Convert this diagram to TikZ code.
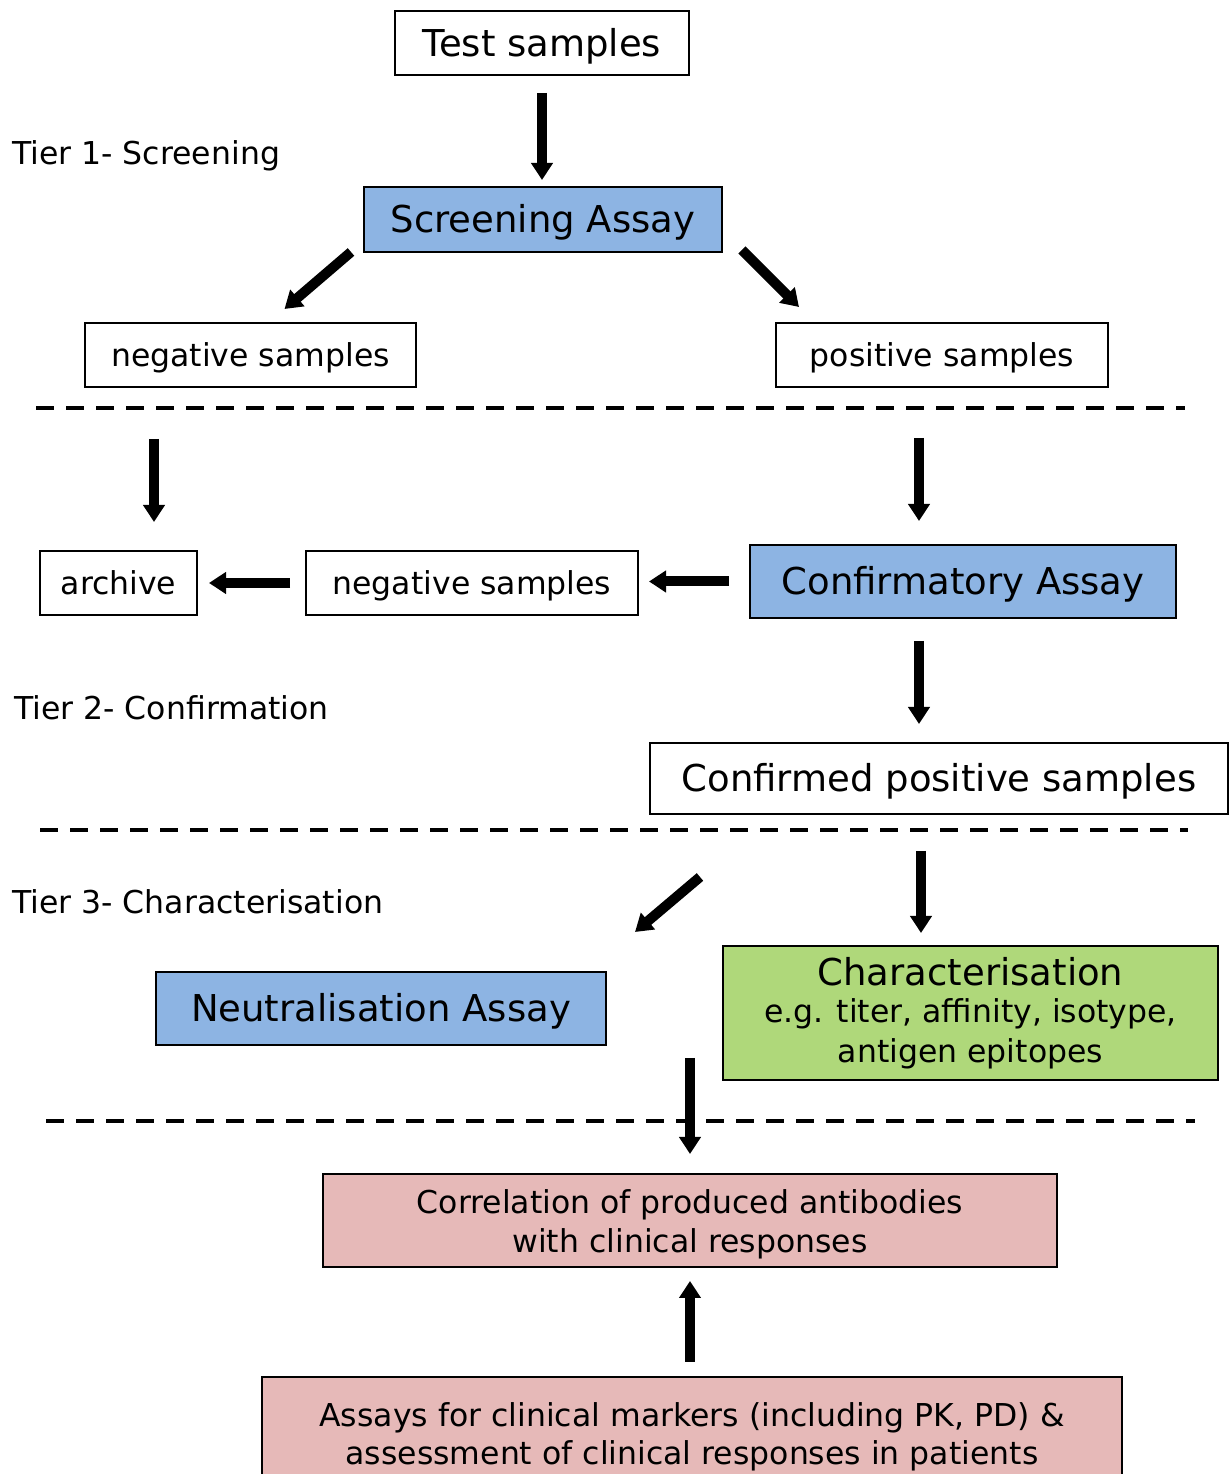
\documentclass[tikz,border=0pt]{standalone}
\usepackage{fontspec}
\setmainfont{DejaVu Sans}
\usetikzlibrary{positioning,arrows.meta,calc}

\definecolor{assayblue}{RGB}{141,180,227}
\definecolor{chargreen}{RGB}{175,216,122}
\definecolor{clinpink}{RGB}{230,185,184}

\newcommand{\bigtxt}{\fontsize{37}{44}\selectfont}
\newcommand{\smalltxt}{\fontsize{31.5}{38.5}\selectfont}

\tikzset{
  box/.style={draw, line width=2pt, fill=white, inner sep=0pt, align=center},
  bigline/.style={font=\bigtxt, text height=34pt, text depth=7pt},
  smallline/.style={font=\smalltxt, text height=30pt, text depth=6.5pt},
  arr/.style={line width=10pt, -{Triangle[width=21pt,length=17pt]}},
  tierline/.style={line width=4.5pt, dash pattern=on 18pt off 12pt},
  tier/.style={anchor=west, inner sep=0pt, font=\smalltxt}
}

\begin{document}
\begin{tikzpicture}[x=1pt, y=1pt, >=Stealth]
  \useasboundingbox (0,0) rectangle (1229,1474);

  % Tier 1
  \node[box, bigline, minimum width=294pt, minimum height=64pt] (test) at (542,1431) {Test samples};
  \node[box, bigline, fill=assayblue, minimum width=358pt, minimum height=65pt] (screen) at (543,1254.5) {Screening Assay};
  \node[box, smallline, minimum width=331pt, minimum height=64pt] (negtop) at (250.5,1119) {negative samples};
  \node[box, smallline, minimum width=332pt, minimum height=64pt] (postop) at (942,1119) {positive samples};
  \node[tier] (tierone) at (12,1318) {Tier 1- Screening};

  % Tier 2
  \node[box, smallline, minimum width=157pt, minimum height=64pt] (archive) at (118.5,891) {archive};
  \node[box, smallline, minimum width=332pt, minimum height=64pt] (negmid) at (472,891) {negative samples};
  \node[box, bigline, fill=assayblue, minimum width=426pt, minimum height=73pt] (confirm) at (963,892.5) {Confirmatory Assay};
  \node[box, bigline, minimum width=578pt, minimum height=71pt] (confirmed) at (939,695.5) {Confirmed positive samples};
  \node[tier] (tiertwo) at (14,766) {Tier 2- Confirmation};

  % Tier 3
  \node[box, bigline, fill=assayblue, minimum width=450pt, minimum height=73pt] (neutral) at (381,465.5) {Neutralisation Assay};
  \node[box, fill=chargreen, minimum width=495pt, minimum height=134pt, font=\smalltxt] (charact) at (970.5,461)
    {{\bigtxt Characterisation}\\[-1pt] e.g. titer, affinity, isotype,\\[1pt] antigen epitopes};
  \node[tier] (tierthree) at (12,572) {Tier 3- Characterisation};

  % clinical part
  \node[box, fill=clinpink, minimum width=734pt, minimum height=93pt, font=\smalltxt] (correl) at (690,253.5)
    {\rule{0pt}{32pt}Correlation of produced antibodies\\ with clinical responses};
  \node[box, fill=clinpink, minimum width=860pt, minimum height=114pt, font=\smalltxt] (assays) at (692,40)
    {\rule{0pt}{30pt}Assays for clinical markers (including PK, PD) \&\\ assessment of clinical responses in patients};
  \coordinate (merge) at (690,416);

  % tier separators
  \draw[tierline] (36,1066) -- (1185,1066);
  \draw[tierline] (40,644) -- (1188,644);
  \draw[tierline] (46,353) -- (1195,353);

  % arrows
  \draw[arr, shorten <=17pt, shorten >=6pt] (test.south) -- (test.south |- screen.north);
  \draw[arr] ($(screen.south west)+(-12,1)$) -- ($(negtop.north)+(34,13)$);
  \draw[arr] ($(screen.south east)+(19,3)$) -- ($(postop.north west)+(24,15)$);
  \draw[arr] ($(negtop.south west)+(70,-51)$) -- ($(archive.north west)+(115,28)$);
  \draw[arr] ($(postop.south west)+(144,-50)$) -- ($(confirm.north west)+(170,23)$);
  \draw[arr, shorten <=20pt, shorten >=10pt] (confirm.west) -- (confirm.west -| negmid.east);
  \draw[arr, shorten <=15pt, shorten >=11pt] (negmid.west) -- (negmid.west -| archive.east);
  \draw[arr] ($(confirm.south west)+(170,-22)$) -- ($(confirmed.north west)+(270,18)$);
  \draw[arr] ($(confirmed.south west)+(51,-62)$) -- ($(neutral.north east)+(28,39)$);
  \draw[arr] ($(confirmed.south west)+(272,-36)$) -- ($(charact.north west)+(199,12)$);
  \draw[arr, shorten >=19pt] (merge) -- (correl.north);
  \draw[arr, shorten <=14pt, shorten >=13pt] (assays.north -| correl.south) -- (correl.south);
\end{tikzpicture}
\end{document}
